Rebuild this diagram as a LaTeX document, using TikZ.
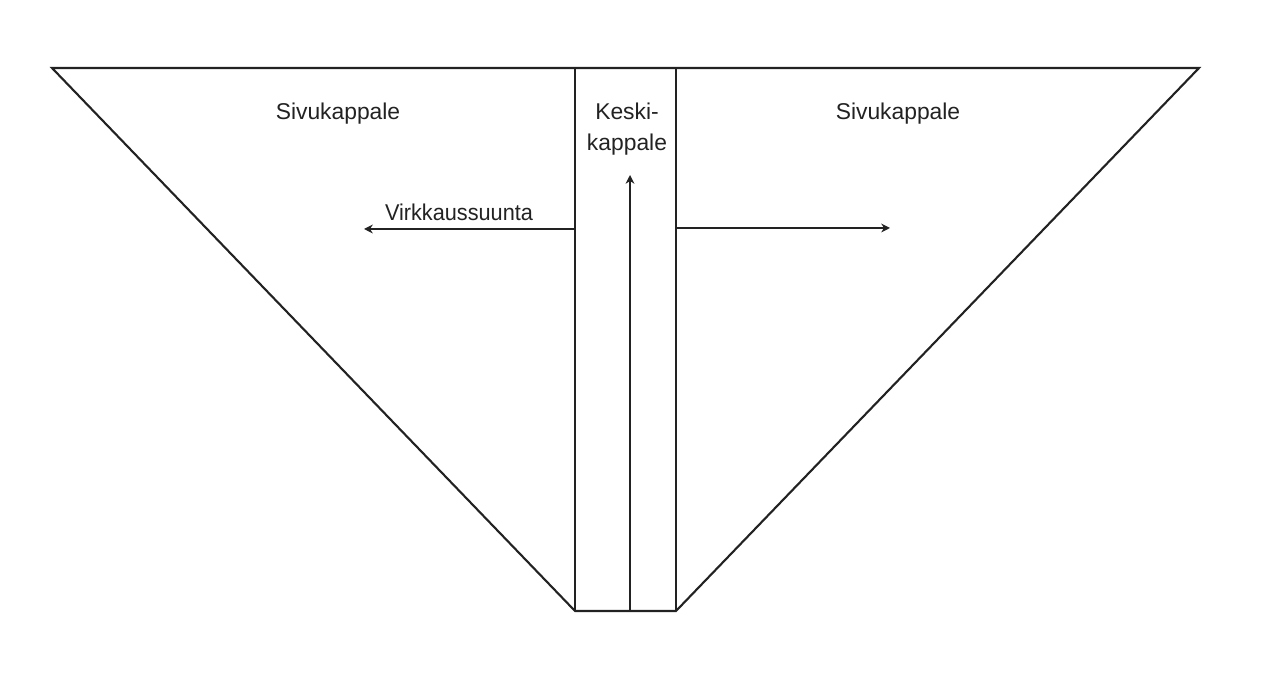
\documentclass[tikz,border=0pt]{standalone}
\usepackage{fontspec}
\setmainfont{Liberation Sans}
\usetikzlibrary{positioning, arrows.meta}
\definecolor{inkline}{RGB}{34,34,34}

\begin{document}
\begin{tikzpicture}[
        x=0.02cm, y=-0.02cm,
        outline/.style={draw=inkline, line width=1.2pt, line join=miter},
        dirarrow/.style={draw=inkline, line width=1.2pt, -{Stealth[length=5pt, width=5pt]}},
        label/.style={font=\fontsize{13}{18}\selectfont, text=inkline, align=center, inner sep=0pt}
    ]
    \useasboundingbox (0,0) rectangle (1279,678);

    % corners of the shawl
    \coordinate (tl) at (52,68);
    \coordinate (tr) at (1199,68);
    \coordinate (ml) at (575,68);
    \coordinate (mr) at (676,68);
    \coordinate (bl) at (575,611);
    \coordinate (br) at (676,611);
    \coordinate (bm) at (630,611);

    \draw[outline] (tl) -- (tr) -- (br) -- (bl) -- cycle;
    \draw[outline] (ml) -- (bl);
    \draw[outline] (mr) -- (br);

    % labels
    \node[label] (sideL) at (338,114) {Sivukappale};
    \node[label] (sideR) at (898,114) {Sivukappale};
    \node[label] (centre) at (627,129) {Keski-\\kappale};
    \node[label, xscale=0.95] (dir) at (459,212) {Virkkaussuunta};

    % crochet directions
    \coordinate (leftS) at (575,229);
    \coordinate (leftE) at (364,229);
    \coordinate (rightS) at (676,228);
    \coordinate (rightE) at (890,228);
    \coordinate (upE) at (630,175);
    \draw[dirarrow] (leftS) -- (leftE);
    \draw[dirarrow] (rightS) -- (rightE);
    \draw[dirarrow] (bm) -- (upE);
\end{tikzpicture}
\end{document}
